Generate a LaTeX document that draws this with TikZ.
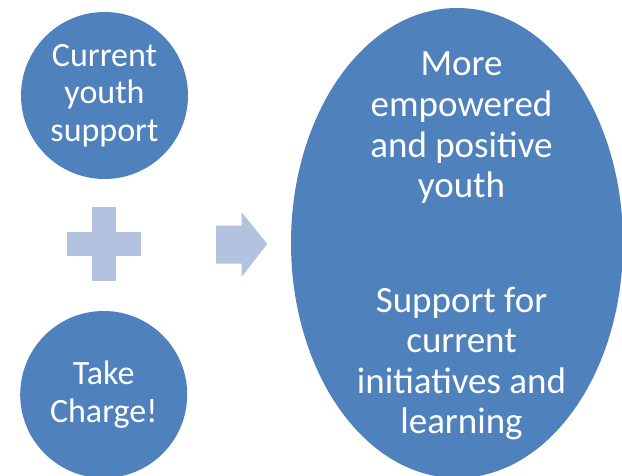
\documentclass[tikz,border=0pt]{standalone}
\usepackage{fontspec}
\setmainfont{Carlito}
\usetikzlibrary{shapes.geometric}
\definecolor{mainblue}{HTML}{4F81BD}
\definecolor{paleblue}{HTML}{B2C2DF}
\tikzset{
  bubble/.style={circle, fill=mainblue, draw=none, minimum size=167bp, inner sep=0pt,
    text=white, align=center, font=\fontsize{34bp}{37.5bp}\selectfont},
  bigoval/.style={ellipse, fill=mainblue, draw=none, minimum width=332bp,
    minimum height=470bp, inner sep=0pt},
  ovaltext/.style={text=white, align=center, inner sep=0pt,
    font=\fontsize{37bp}{40.6bp}\selectfont},
  symbol/.style={fill=paleblue, draw=none}
}
\begin{document}
\begin{tikzpicture}[x=1bp, y=-1bp]
  \useasboundingbox (0,0) rectangle (622,476);
  \clip (0,0) rectangle (622,476);

  % inputs
  \node[bubble] (current) at (104.5,95.5) {Current\\youth\\support};
  \node[bubble] (take) at (103.7,394.5) {Take\\Charge!};

  % plus sign between the inputs
  \fill[symbol] (66.7,232.3) rectangle (140.7,255.7);
  \fill[symbol] (91.7,206.7) rectangle (115.7,280.7);

  % block arrow towards the outcome
  \fill[symbol] (216,225.7) -- (241.7,225.7) -- (241.7,212.3) -- (267.3,244)
    -- (241.7,276.7) -- (241.7,263.7) -- (216,263.7) -- cycle;

  % outcome
  \node[bigoval] (outcome) at (457,243) {};
  \node[ovaltext] (empowered) at (461.5,128) {More\\empowered\\and positive\\youth};
  \node[ovaltext] (learning) at (461.5,363.4) {Support for\\current\\initiatives and\\learning};
\end{tikzpicture}
\end{document}
